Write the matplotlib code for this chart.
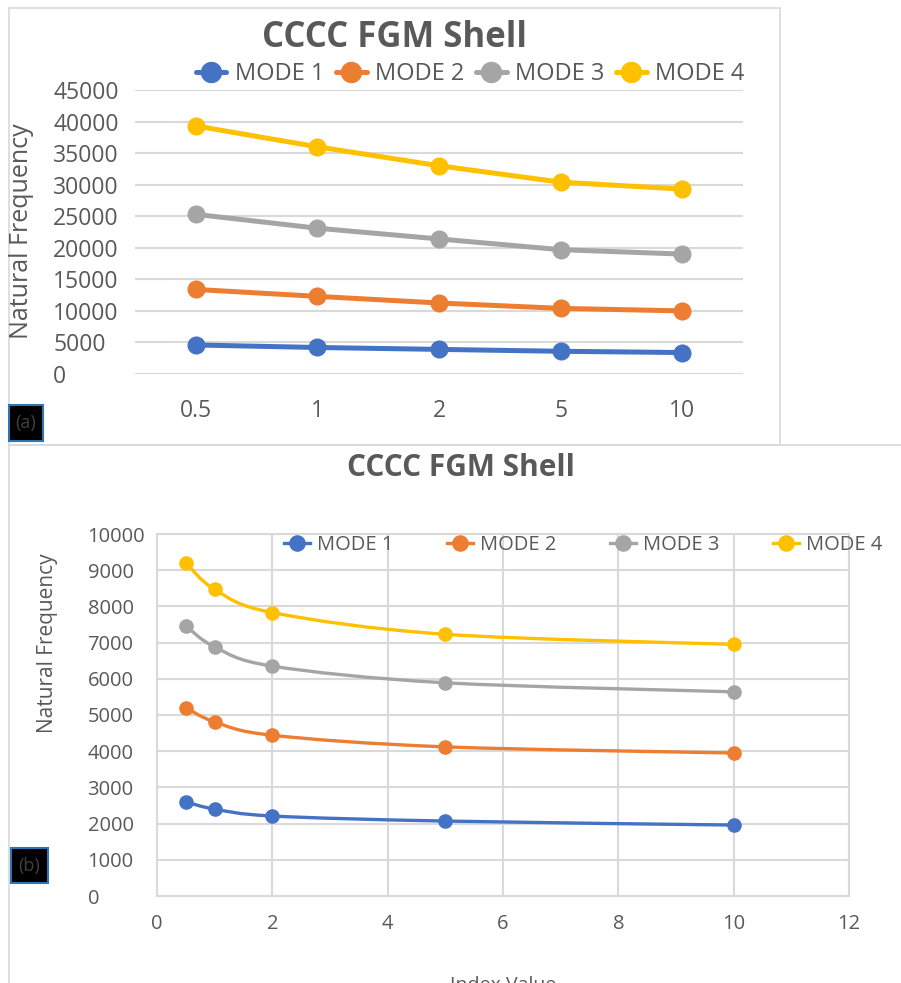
import numpy as np
import matplotlib
matplotlib.use("Agg")
import matplotlib.pyplot as plt
from matplotlib.path import Path
from matplotlib.patches import PathPatch, Rectangle

plt.rcParams['font.family'] = ['Open Sans', 'DejaVu Sans']

# ---------------- data ----------------
categories = ["0.5", "1", "2", "5", "10"]
index_values = [0.5, 1, 2, 5, 10]
mode_names = ["MODE 1", "MODE 2", "MODE 3", "MODE 4"]

top_mode1 = [4600, 4200, 3900, 3600, 3400]
top_mode2 = [13400, 12300, 11250, 10400, 10000]
top_mode3 = [25300, 23100, 21400, 19700, 19000]
top_mode4 = [39300, 36000, 33000, 30400, 29300]

bot_mode1 = [2600, 2400, 2210, 2070, 1960]
bot_mode2 = [5200, 4810, 4440, 4120, 3950]
bot_mode3 = [7460, 6880, 6350, 5890, 5640]
bot_mode4 = [9200, 8470, 7830, 7230, 6950]

top_yticks = [0, 5000, 10000, 15000, 20000, 25000, 30000, 35000, 40000, 45000]
bot_yticks = list(range(0, 10001, 1000))
bot_xticks = [0, 2, 4, 6, 8, 10, 12]

colors = ["#4472C4", "#ED7D31", "#A5A5A5", "#FFC000"]
txt_col = "#595959"
grid_col = "#D9D9D9"

W, H = 901, 983
fig = plt.figure(figsize=(W / 100, H / 100), dpi=100)


def fx(px):
    return px / W


def fy(py):
    return 1 - py / H


def axes_rect(l, t, r, b):
    return [fx(l), fy(b), fx(r) - fx(l), fy(t) - fy(b)]


# panel borders
fig.add_artist(Rectangle((fx(9), fy(445)), fx(780) - fx(9), fy(8) - fy(445),
                         transform=fig.transFigure, fill=False, ec=grid_col, lw=1.2))
fig.add_artist(Rectangle((fx(9), fy(990)), fx(905) - fx(9), fy(445) - fy(990),
                         transform=fig.transFigure, fill=False, ec=grid_col, lw=1.2))

# ---------------- top panel ----------------
ax1 = fig.add_axes(axes_rect(135, 90, 743, 374))
x = np.arange(len(categories))
for vals, c, n in zip([top_mode1, top_mode2, top_mode3, top_mode4], colors, mode_names):
    ax1.plot(x, vals, color=c, lw=3.6, marker='o', ms=12, label=n, solid_capstyle='round')
ax1.set_xlim(-0.5, len(categories) - 0.5)
ax1.set_ylim(0, 45000)
ax1.set_yticks(top_yticks)
ax1.set_yticklabels([str(v) for v in top_yticks])
ax1.set_xticks(x)
ax1.set_xticklabels(categories)
ax1.grid(axis='y', color=grid_col, lw=1.5)
ax1.set_axisbelow(True)
for s in ax1.spines.values():
    s.set_visible(False)
ax1.tick_params(axis='y', length=0, pad=59, labelsize=16.5, labelcolor=txt_col)
ax1.tick_params(axis='x', length=0, pad=18, labelsize=16.5, labelcolor=txt_col)
for lab in ax1.get_yticklabels():
    lab.set_horizontalalignment('left')
fig.text(fx(22), fy(231), "Natural Frequency", rotation=90, fontsize=18,
         color=txt_col, ha='center', va='center')

fig.text(fx(394), fy(38), "CCCC FGM Shell", fontsize=25, fontweight='bold',
         color=txt_col, ha='center', va='center')
h1, l1 = ax1.get_legend_handles_labels()
fig.legend(h1, l1, loc='center', bbox_to_anchor=(fx(470), fy(74)), ncol=4,
           frameon=False, fontsize=17, handlelength=1.3, handletextpad=0.35,
           columnspacing=0.5, labelcolor=txt_col, borderpad=0, markerscale=1.2)

# ---------------- bottom panel ----------------
ax2 = fig.add_axes(axes_rect(157, 534, 849, 896))


def smooth_path(xs, ys):
    pts = np.column_stack([xs, ys]).astype(float)
    n = len(pts)
    verts = [pts[0]]
    codes = [Path.MOVETO]
    for i in range(n - 1):
        p0 = pts[i - 1] if i > 0 else pts[i]
        p1 = pts[i]
        p2 = pts[i + 1]
        p3 = pts[i + 2] if i + 2 < n else pts[i + 1]
        c1 = p1 + (p2 - p0) / 6.0
        c2 = p2 - (p3 - p1) / 6.0
        verts += [c1, c2, p2]
        codes += [Path.CURVE4] * 3
    return Path(verts, codes)


for vals, c, n in zip([bot_mode1, bot_mode2, bot_mode3, bot_mode4], colors, mode_names):
    ax2.add_patch(PathPatch(smooth_path(index_values, vals), fill=False, ec=c, lw=2.4,
                            capstyle='round', joinstyle='round'))
    ax2.plot(index_values, vals, ls='none', marker='o', ms=9.5, color=c)
    ax2.plot([], [], color=c, lw=2.4, marker='o', ms=9.5, label=n)

ax2.set_xlim(0, 12)
ax2.set_ylim(0, 10000)
ax2.set_xticks(bot_xticks)
ax2.set_yticks(bot_yticks)
ax2.grid(True, color=grid_col, lw=1.5)
ax2.set_axisbelow(True)
for s in ax2.spines.values():
    s.set_color(grid_col)
    s.set_linewidth(1.5)
ax2.tick_params(axis='y', length=0, pad=50, labelsize=14.5, labelcolor=txt_col)
ax2.tick_params(axis='x', length=0, pad=13, labelsize=14.5, labelcolor=txt_col)
for lab in ax2.get_yticklabels():
    lab.set_horizontalalignment('left')
fig.text(fx(48), fy(643), "Natural Frequency", rotation=90, fontsize=15,
         color=txt_col, ha='center', va='center')

fig.text(fx(461), fy(468), "CCCC FGM Shell", fontsize=21.5, fontweight='bold',
         color=txt_col, ha='center', va='center')
h2, l2 = ax2.get_legend_handles_labels()
fig.legend(h2, l2, loc='center', bbox_to_anchor=(fx(583), fy(545)), ncol=4,
           frameon=False, fontsize=14.5, handlelength=1.3, handletextpad=0.35,
           columnspacing=2.65, labelcolor=txt_col, borderpad=0, markerscale=1.15)
fig.text(fx(503), fy(976), "Index Value", fontsize=14, color=txt_col,
         ha='center', va='top')

# panel labels
for (l, t, r, b, s) in [(9, 405, 43, 441, "(a)"), (11, 848, 48, 883, "(b)")]:
    fig.add_artist(Rectangle((fx(l), fy(b)), fx(r) - fx(l), fy(t) - fy(b),
                             transform=fig.transFigure, fc='black', ec='#2E75B6', lw=1.5))
    fig.text(fx((l + r) / 2), fy((t + b) / 2), s, fontsize=13, color='#404040',
             ha='center', va='center')

fig.savefig("out.png", dpi=100)
